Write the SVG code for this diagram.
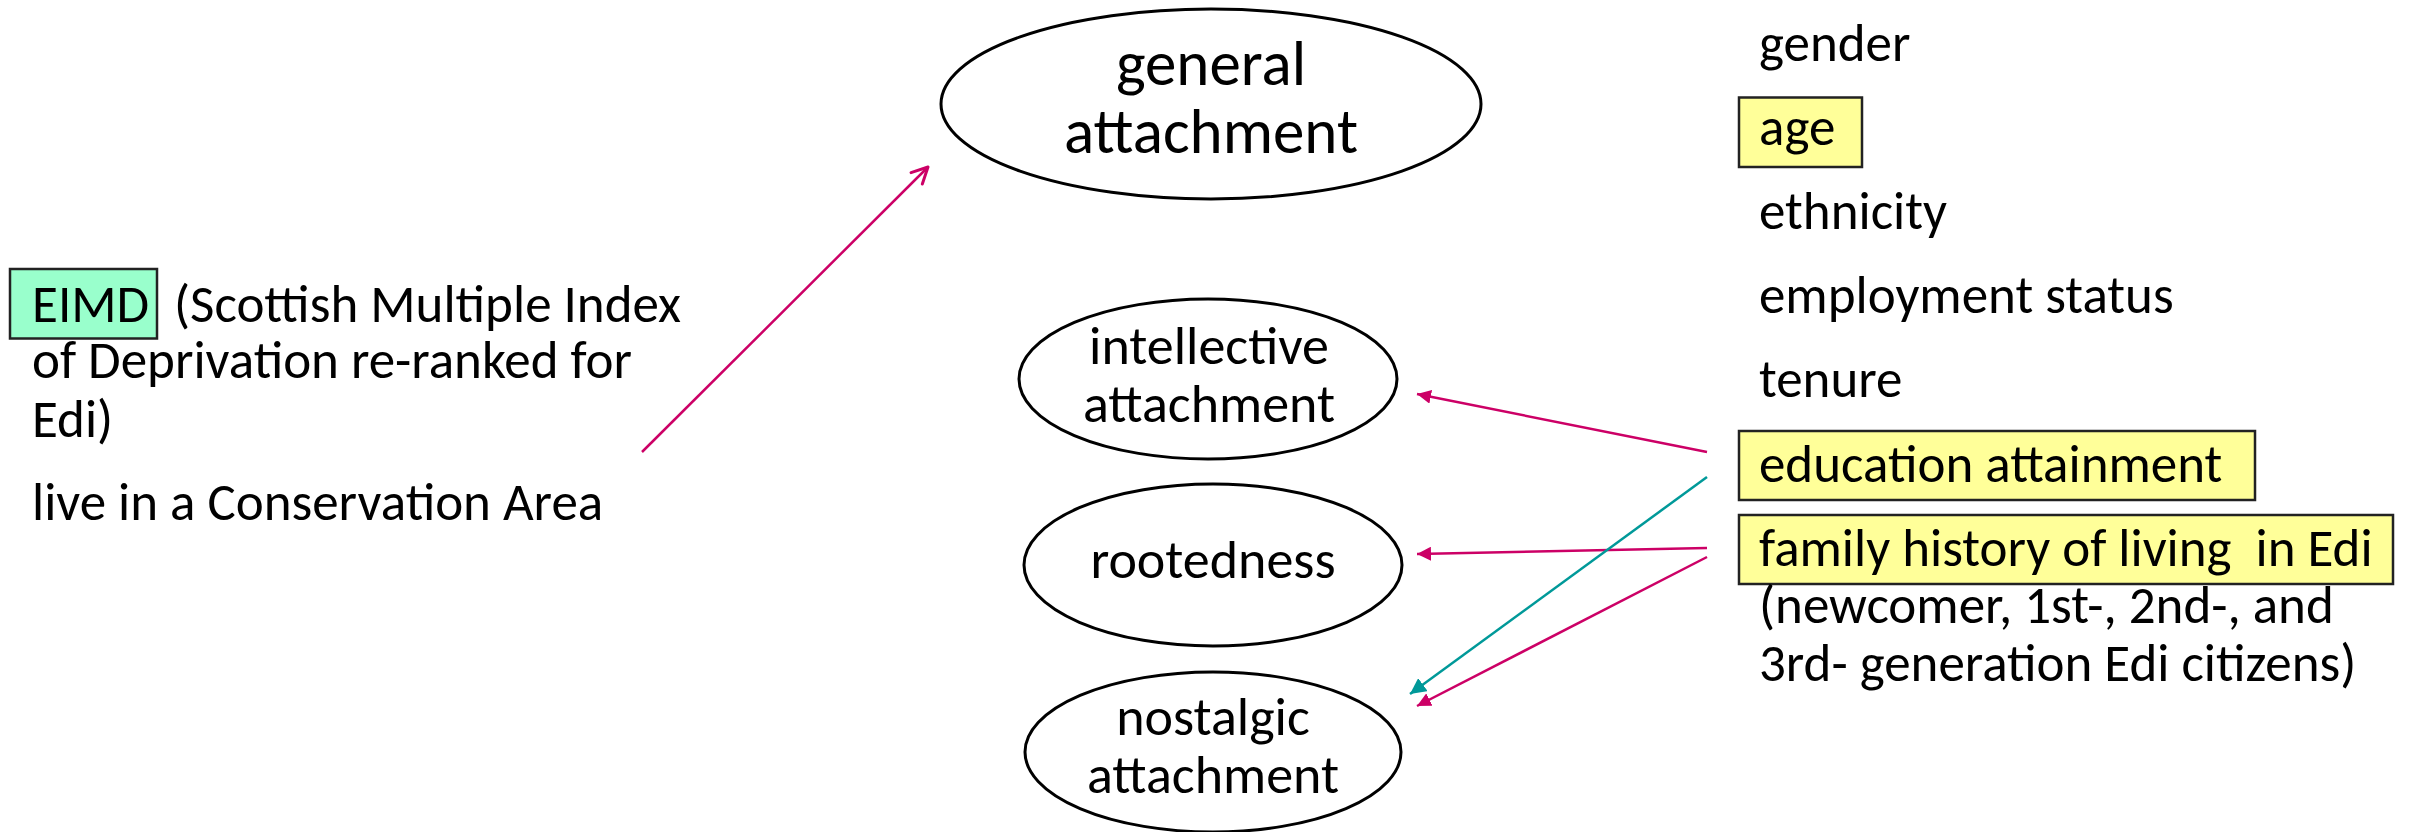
<svg xmlns="http://www.w3.org/2000/svg" width="2417" height="832" viewBox="0 0 2417 832">
<style>
text{font-family:Carlito,Calibri,Lato,"Liberation Sans",sans-serif;fill:#000;}
.big{font-size:63px;text-anchor:middle;}
.mid{font-size:54px;text-anchor:middle;}
.t{font-size:53px;}
.ell{fill:#fff;stroke:#000;stroke-width:3;}
.hl{fill:#FFFF99;stroke:#222;stroke-width:2.5;}
.grn{fill:#99FFCC;stroke:#222;stroke-width:2.5;}
.mg{stroke:#CC0066;stroke-width:2.5;fill:none;}
.tl{stroke:#009999;stroke-width:2.5;fill:none;}
</style>
<defs>
<marker id="mtri" viewBox="0 0 14 14" refX="14" refY="7" markerWidth="14" markerHeight="14" markerUnits="userSpaceOnUse" orient="auto"><path d="M0,0 L14,7 L0,14 z" fill="#CC0066"/></marker>
<marker id="ttri" viewBox="0 0 14 14" refX="14" refY="7" markerWidth="16" markerHeight="16" markerUnits="userSpaceOnUse" orient="auto"><path d="M0,0 L14,7 L0,14 z" fill="#009999"/></marker>
<marker id="mopen" viewBox="0 0 20 20" refX="18" refY="10" markerWidth="20" markerHeight="20" markerUnits="userSpaceOnUse" orient="auto"><path d="M2,2 L18,10 L2,18" fill="none" stroke="#CC0066" stroke-width="3" stroke-linecap="round" stroke-linejoin="round"/></marker>
</defs>

<g id="general">
<ellipse class="ell" cx="1211" cy="104" rx="270" ry="95"/>
<text class="big" x="1211" y="85">general</text>
<text class="big" x="1211" y="153">attachment</text>
</g>
<g id="intellective">
<ellipse class="ell" cx="1208" cy="379" rx="189" ry="80"/>
<text class="mid" x="1209" y="364">intellective</text>
<text class="mid" x="1209" y="422">attachment</text>
</g>
<g id="rootedness">
<ellipse class="ell" cx="1213" cy="565" rx="189" ry="81"/>
<text class="mid" x="1213" y="578">rootedness</text>
</g>
<g id="nostalgic">
<ellipse class="ell" cx="1213" cy="752" rx="188" ry="80"/>
<text class="mid" x="1213" y="735">nostalgic</text>
<text class="mid" x="1213" y="793">attachment</text>
</g>

<g id="eimd">
<rect class="grn" x="10" y="269" width="147" height="69.5"/>
<text class="t" x="32" y="322">EIMD</text>
<text class="t" x="174" y="322">(Scottish Multiple Index</text>
<text class="t" x="32" y="378">of Deprivation re-ranked for</text>
<text class="t" x="32" y="437">Edi)</text>
</g>
<g id="conservation">
<text class="t" x="32" y="520">live in a Conservation Area</text>
</g>

<g id="gender"><text class="t" x="1759" y="61">gender</text></g>
<g id="age">
<rect class="hl" x="1739" y="97.5" width="123" height="69.5"/>
<text class="t" x="1759" y="145">age</text>
</g>
<g id="ethnicity"><text class="t" x="1759" y="229">ethnicity</text></g>
<g id="employment"><text class="t" x="1759" y="313">employment status</text></g>
<g id="tenure"><text class="t" x="1759" y="397">tenure</text></g>
<g id="education">
<rect class="hl" x="1739" y="431" width="516" height="69"/>
<text class="t" x="1759" y="482">education attainment</text>
</g>
<g id="family">
<rect class="hl" x="1739" y="515" width="654" height="69"/>
<text class="t" x="1759" y="566" xml:space="preserve">family history of living  in Edi</text>
<text class="t" x="1759" y="623">(newcomer, 1st-, 2nd-, and</text>
<text class="t" x="1759" y="681">3rd- generation Edi citizens)</text>
</g>

<g id="connectors">
<line class="mg" x1="642" y1="452" x2="928" y2="167" marker-end="url(#mopen)"/>
<line class="mg" x1="1707" y1="452" x2="1417" y2="394" marker-end="url(#mtri)"/>
<line class="mg" x1="1707" y1="548" x2="1417" y2="554" marker-end="url(#mtri)"/>
<line class="tl" x1="1707" y1="477" x2="1410" y2="694" marker-end="url(#ttri)"/>
<line class="mg" x1="1707" y1="557" x2="1417" y2="706" marker-end="url(#mtri)"/>
</g>
</svg>
